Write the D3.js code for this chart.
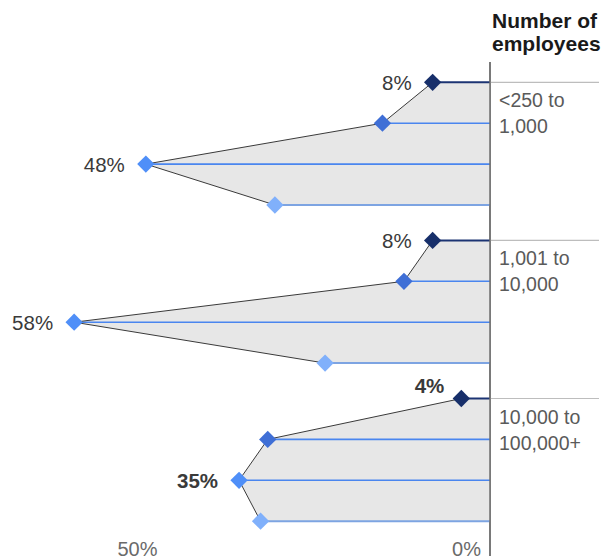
<!DOCTYPE html>
<html>
<head>
<meta charset="utf-8">
<script src="https://cdn.jsdelivr.net/npm/d3@7"></script>
<style>
  html, body { margin: 0; padding: 0; background: #fff; }
  svg { display: block; font-family: "Liberation Sans", Arial, sans-serif; }
</style>
</head>
<body>
<svg id="chart" width="616" height="560"></svg>
<script>
// ---- data ----
const categories = ["<250 to\n1,000", "1,001 to\n10,000", "10,000 to\n100,000+"];
// four series per category (top to bottom), share of respondents in %
const series1 = [8, 8, 4];      // darkest
const series2 = [15, 12, 31];
const series3 = [48, 58, 35];
const series4 = [30, 23, 32];   // lightest
const labelledSeries = [0, 2];  // series whose values are printed
const axisTicks = [50, 0];
const headerLines = ["Number of", "employees"];

// ---- styles ----
const diamondColors = ["#172f6a", "#3f6fd6", "#4f8ff8", "#80b0fb"];
const lineColors = ["#1c3473", "#4a86ef", "#4a86ef", "#7da4e2"];

const svg = d3.select("#chart");

const x = d3.scaleLinear().domain([0, 50]).range([490, 131.5]);
const yGroup = d3.scaleLinear().domain([0, 2]).range([82.3, 398.5]);
const yRow = d3.scaleLinear().domain([0, 3]).range([0, 122.7]);

const allSeries = [series1, series2, series3, series4];
const groups = categories.map((c, g) => ({
  cat: c,
  g,
  pts: allSeries.map((s, r) => ({ v: s[g], r, y: yGroup(g) + yRow(r) }))
}));

// header
svg.append("g").selectAll("text").data(headerLines).join("text")
  .attr("x", 492).attr("y", (d, i) => 27.5 + i * 23)
  .attr("font-size", 21).attr("font-weight", "bold").attr("fill", "#1a1a1a")
  .text(d => d);

// vertical axis line
svg.append("line")
  .attr("x1", x(0)).attr("x2", x(0)).attr("y1", 62).attr("y2", 556)
  .attr("stroke", "#7a7a7a").attr("stroke-width", 1.5);

const gg = svg.append("g").selectAll("g").data(groups).join("g");

// grey separator to the right
gg.append("line")
  .attr("x1", x(0)).attr("x2", 599)
  .attr("y1", d => d.pts[0].y).attr("y2", d => d.pts[0].y)
  .attr("stroke", "#bdbdbd").attr("stroke-width", 1.2);

// filled area
gg.append("path")
  .attr("d", d => {
    const p = d.pts.map(q => [x(q.v), q.y]);
    p.push([x(0), d.pts[3].y]);
    p.push([x(0), d.pts[0].y]);
    return d3.line()(p) + "Z";
  })
  .attr("fill", "#e7e7e7");

// horizontal row lines
gg.selectAll("line.row").data(d => d.pts).join("line")
  .attr("class", "row")
  .attr("x1", q => x(q.v)).attr("x2", x(0))
  .attr("y1", q => q.y).attr("y2", q => q.y)
  .attr("stroke", q => lineColors[q.r])
  .attr("stroke-width", q => (q.r === 0 || q.r === 3) ? 2 : 1.6);

// connecting outline
gg.append("path")
  .attr("d", d => d3.line()(d.pts.map(q => [x(q.v), q.y])))
  .attr("fill", "none").attr("stroke", "#3a3a3a").attr("stroke-width", 1);

// axis line on top again
svg.append("line")
  .attr("x1", x(0)).attr("x2", x(0)).attr("y1", 62).attr("y2", 556)
  .attr("stroke", "#6e6e6e").attr("stroke-width", 1.5);

// diamonds
const sym = d3.symbol().type(d3.symbolSquare).size(150);
gg.selectAll("path.dia").data(d => d.pts).join("path")
  .attr("class", "dia")
  .attr("d", sym)
  .attr("transform", q => `translate(${x(q.v)},${q.y}) rotate(45)`)
  .attr("fill", q => diamondColors[q.r]);

// value labels
gg.selectAll("text.val").data(d => d.pts.filter(q => labelledSeries.includes(q.r)).map(q => ({ ...q, g: d.g })))
  .join("text").attr("class", "val")
  .attr("x", q => x(q.v) - (q.r === 0 && q.g === 2 ? 17 : 21))
  .attr("y", q => q.y + (q.r === 0 && q.g === 2 ? -6 : 7.5))
  .attr("text-anchor", "end")
  .attr("font-size", 20.5)
  .attr("font-weight", q => q.g === 2 ? "bold" : "normal")
  .attr("fill", "#3a3a3a")
  .text(q => q.v + "%");

// category labels
gg.each(function (d) {
  const t = d3.select(this).append("text")
    .attr("x", 499).attr("font-size", 19.5).attr("fill", "#5a5a5a");
  d.cat.split("\n").forEach((line, i) => {
    t.append("tspan").attr("x", 499).attr("y", d.pts[0].y + 25 + i * 26).text(line);
  });
});

// bottom tick labels
svg.append("g").selectAll("text").data(axisTicks).join("text")
  .attr("x", d => d === 0 ? x(d) - 9 : x(d) + 6)
  .attr("y", 556)
  .attr("text-anchor", d => d === 0 ? "end" : "middle")
  .attr("font-size", 20).attr("fill", "#6a6a6a")
  .text(d => d + "%");
</script>
</body>
</html>
